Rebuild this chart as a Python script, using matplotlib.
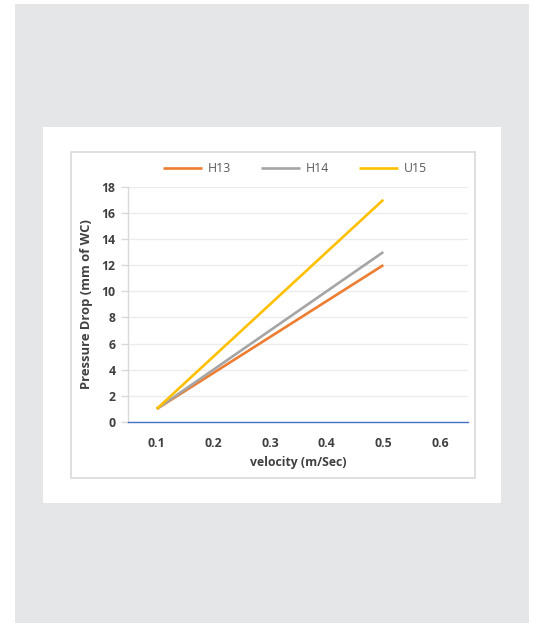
import matplotlib
matplotlib.use("Agg")
from matplotlib import pyplot as plt
from matplotlib.patches import Rectangle

# data
velocity = [0.1, 0.5]
h13 = [1, 12]
h14 = [1, 13]
u15 = [1, 17]
series_names = ['H13', 'H14', 'U15']
x_ticks = [0.1, 0.2, 0.3, 0.4, 0.5, 0.6]
y_ticks = [0, 2, 4, 6, 8, 10, 12, 14, 16, 18]

plt.rcParams['font.family'] = ['Open Sans', 'DejaVu Sans']

W, H = 533, 623
fig = plt.figure(figsize=(W / 100, H / 100), dpi=100, facecolor='white')

def box(x0, y0, x1, y1, **kw):
    # pixel box (top-left origin) -> figure rectangle
    r = Rectangle((x0 / W, 1 - y1 / H), (x1 - x0) / W, (y1 - y0) / H,
                  transform=fig.transFigure, **kw)
    fig.add_artist(r)

box(15, 4, 529, 623, facecolor='#e5e6e8', edgecolor='none', zorder=0)
box(43, 127, 501, 503, facecolor='white', edgecolor='none', zorder=0)
box(71, 152, 475, 478, facecolor='white', edgecolor='#d9d9d9', linewidth=1.2, zorder=0)

ax = fig.add_axes([128 / W, 1 - 422 / H, 340 / W, (422 - 186.7) / H])
ax.set_facecolor('none')

colors = ['#ed7d31', '#a5a5a5', '#ffc000']
for vals, name, c in zip([h13, h14, u15], series_names, colors):
    ax.plot(velocity, vals, color=c, linewidth=1.9, label=name, solid_capstyle='butt')

ax.set_xlim(0.0493, 0.6495)
ax.set_ylim(0, 18)
ax.set_xticks(x_ticks)
ax.set_xticklabels([str(v) for v in x_ticks])
ax.set_yticks(y_ticks)
ax.grid(axis='y', color='#ececec', linewidth=1)
ax.set_axisbelow(True)

for s in ['top', 'right']:
    ax.spines[s].set_visible(False)
ax.spines['left'].set_color('#d9d9d9')
ax.spines['left'].set_linewidth(1)
ax.spines['bottom'].set_color('#4472c4')
ax.spines['bottom'].set_linewidth(1)

ax.tick_params(axis='y', length=5, color='#d9d9d9', width=1, pad=4,
               labelsize=8.8, labelcolor='#404040')
ax.tick_params(axis='x', length=0, pad=11, labelsize=8.8, labelcolor='#404040')
for lab in ax.get_xticklabels() + ax.get_yticklabels():
    lab.set_fontweight('bold')

ax.set_xlabel('velocity (m/Sec)', fontsize=8.8, fontweight='bold', color='#404040', labelpad=4)
ax.set_ylabel('Pressure Drop (mm of WC)', fontsize=9.4, fontweight='bold', color='#404040', labelpad=6)

leg = ax.legend(loc='center', ncol=3, frameon=False, fontsize=8.8, handlelength=3.2,
                handletextpad=0.5, columnspacing=2.4)
leg.set_bbox_to_anchor((295 / W, 1 - 168.3 / H), transform=fig.transFigure)
for t in leg.get_texts():
    t.set_color('#595959')

fig.savefig('out.png', dpi=100, facecolor='white')
